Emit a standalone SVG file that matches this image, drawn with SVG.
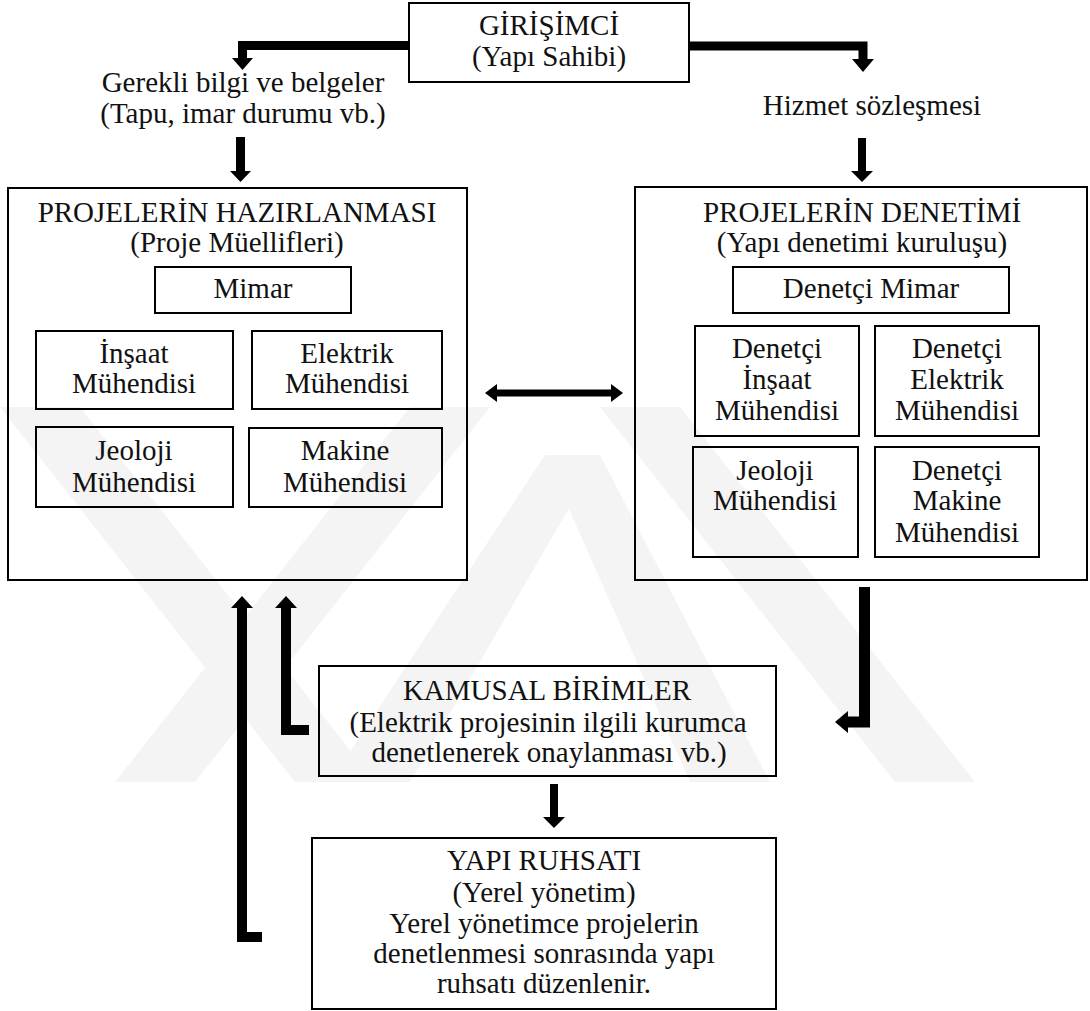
<svg xmlns="http://www.w3.org/2000/svg" width="1090" height="1011" viewBox="0 0 1090 1011">
<style>
text{font-family:'Liberation Serif','Times New Roman',serif;font-size:29px;fill:#111;text-anchor:middle}
.box{fill:none;stroke:#000;stroke-width:2}
.wm{fill:#f4f4f4}
.sh{fill:none;stroke:#000;stroke-linejoin:miter;stroke-linecap:butt}
.hd{fill:#000}
</style>
<rect width="1090" height="1011" fill="#fff"/>
<g id="watermark">
<polygon class="wm" points="0,407 80,407 375,782 295,782"/>
<polygon class="wm" points="410,407 490,407 195,782 115,782"/>
<polygon class="wm" points="600,407 680,407 975,782 895,782"/>
<polygon class="wm" points="545,455 600,455 770,782 690,782"/>
<polygon class="wm" points="545,455 600,455 410,782 330,782"/>
</g>
<g id="connectors">
<polyline class="sh" stroke-width="9" points="409,45.5 242.5,45.5 242.5,60"/>
<polygon class="hd" points="232,58 253,58 242.5,70"/>
<polyline class="sh" stroke-width="9" points="689,46 863,46 863,61"/>
<polygon class="hd" points="852,59 874,59 863,72"/>
<line class="sh" stroke-width="9" x1="240.5" y1="137" x2="240.5" y2="172"/>
<polygon class="hd" points="230,171 251,171 240.5,182"/>
<line class="sh" stroke-width="8" x1="862" y1="138" x2="862" y2="172"/>
<polygon class="hd" points="851,171 873,171 862,182"/>
<line class="sh" stroke-width="7" x1="494" y1="393" x2="614" y2="393"/>
<polygon class="hd" points="485,393 497,384 497,402"/>
<polygon class="hd" points="623,393 611,384 611,402"/>
<polyline class="sh" stroke-width="10" points="262,937 242,937 242,606"/>
<polygon class="hd" points="231,608 253,608 242,596"/>
<polyline class="sh" stroke-width="10" points="309,730 286,730 286,606"/>
<polygon class="hd" points="275,608 297,608 286,596"/>
<polyline class="sh" stroke-width="11" points="864.5,587 864.5,722 846,722"/>
<polygon class="hd" points="848,711 848,733 835,722"/>
<line class="sh" stroke-width="8" x1="554" y1="784" x2="554" y2="818"/>
<polygon class="hd" points="543,817 565,817 554,828"/>
</g>
<g id="girisimci">
<rect class="box" x="409" y="3" width="280" height="79"/>
<text x="549" y="35">GİRİŞİMCİ</text>
<text x="549" y="66">(Yapı Sahibi)</text>
</g>
<g id="label-belgeler">
<text x="243" y="92">Gerekli bilgi ve belgeler</text>
<text x="243" y="123">(Tapu, imar durumu vb.)</text>
</g>
<g id="label-hizmet">
<text x="872" y="115">Hizmet sözleşmesi</text>
</g>
<g id="hazirlanmasi">
<rect class="box" x="8" y="188" width="459" height="392"/>
<text x="237" y="222">PROJELERİN HAZIRLANMASI</text>
<text x="237" y="252">(Proje Müellifleri)</text>
</g>
<g id="mimar">
<rect class="box" x="155" y="267" width="196" height="46"/>
<text x="253" y="298">Mimar</text>
</g>
<g id="insaat">
<rect class="box" x="36" y="331" width="197" height="78"/>
<text x="134" y="363">İnşaat</text>
<text x="134" y="393">Mühendisi</text>
</g>
<g id="elektrik">
<rect class="box" x="252" y="331" width="190" height="78"/>
<text x="347" y="363">Elektrik</text>
<text x="347" y="393">Mühendisi</text>
</g>
<g id="jeoloji">
<rect class="box" x="36" y="427" width="197" height="80"/>
<text x="134" y="460">Jeoloji</text>
<text x="134" y="492">Mühendisi</text>
</g>
<g id="makine">
<rect class="box" x="249" y="428" width="193" height="79"/>
<text x="345" y="460">Makine</text>
<text x="345" y="492">Mühendisi</text>
</g>
<g id="denetimi">
<rect class="box" x="635" y="187" width="452" height="393"/>
<text x="862" y="222">PROJELERİN DENETİMİ</text>
<text x="862" y="252">(Yapı denetimi kuruluşu)</text>
</g>
<g id="denetci-mimar">
<rect class="box" x="733" y="267" width="276" height="46"/>
<text x="871" y="298">Denetçi Mimar</text>
</g>
<g id="denetci-insaat">
<rect class="box" x="695" y="326" width="164" height="110"/>
<text x="777" y="358">Denetçi</text>
<text x="777" y="389">İnşaat</text>
<text x="777" y="420">Mühendisi</text>
</g>
<g id="denetci-elektrik">
<rect class="box" x="875" y="326" width="164" height="110"/>
<text x="957" y="358">Denetçi</text>
<text x="957" y="389">Elektrik</text>
<text x="957" y="420">Mühendisi</text>
</g>
<g id="denetci-jeoloji">
<rect class="box" x="693" y="447" width="165" height="110"/>
<text x="775" y="480">Jeoloji</text>
<text x="775" y="510">Mühendisi</text>
</g>
<g id="denetci-makine">
<rect class="box" x="875" y="447" width="164" height="110"/>
<text x="957" y="480">Denetçi</text>
<text x="957" y="510">Makine</text>
<text x="957" y="542">Mühendisi</text>
</g>
<g id="kamusal">
<rect class="box" x="319" y="666" width="457" height="110"/>
<text x="547" y="700">KAMUSAL BİRİMLER</text>
<text x="548" y="732">(Elektrik projesinin ilgili kurumca</text>
<text x="549" y="762">denetlenerek onaylanması vb.)</text>
</g>
<g id="yapi-ruhsati">
<rect class="box" x="312" y="838" width="464" height="171"/>
<text x="544" y="870">YAPI RUHSATI</text>
<text x="544" y="902">(Yerel yönetim)</text>
<text x="544" y="933">Yerel yönetimce projelerin</text>
<text x="544" y="963">denetlenmesi sonrasında yapı</text>
<text x="544" y="993">ruhsatı düzenlenir.</text>
</g>
</svg>
